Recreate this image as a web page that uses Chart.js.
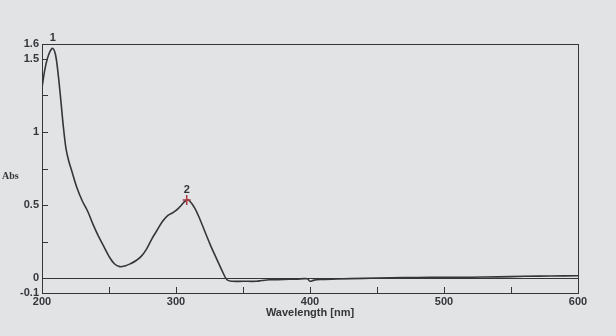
<!DOCTYPE html>
<html>
<head>
<meta charset="utf-8">
<script src="https://cdn.jsdelivr.net/npm/chart.js@4.4.1/dist/chart.umd.min.js"></script>
<style>
  html, body { margin: 0; padding: 0; background: #e1e3e5; }
  #wrap { width: 616px; height: 336px; position: relative; }
</style>
</head>
<body>
<div id="wrap"><canvas id="mychart" width="616" height="336"></canvas></div>
<script>
// spectrum
const wavelength = [200, 202, 204, 206, 208, 210, 212, 214, 216, 218, 220, 222, 226, 230, 234, 238, 242, 246, 250, 254, 258, 262, 266, 270, 274, 278, 282, 286, 290, 294, 298, 302, 306, 308, 310, 314, 318, 322, 326, 330, 334, 338, 342, 350, 360, 364, 370, 380, 390, 398, 400, 403, 408, 420, 440, 460, 480, 500, 520, 540, 560, 580, 600];
const absorbance = [1.30, 1.42, 1.50, 1.55, 1.57, 1.53, 1.40, 1.22, 1.03, 0.88, 0.80, 0.74, 0.62, 0.53, 0.46, 0.37, 0.29, 0.22, 0.15, 0.10, 0.08, 0.085, 0.10, 0.12, 0.15, 0.20, 0.27, 0.33, 0.39, 0.43, 0.45, 0.48, 0.52, 0.535, 0.53, 0.48, 0.40, 0.31, 0.22, 0.14, 0.06, -0.01, -0.02, -0.02, -0.02, -0.015, -0.01, -0.008, -0.005, -0.003, -0.02, -0.012, -0.008, -0.004, 0.0, 0.004, 0.006, 0.008, 0.008, 0.01, 0.014, 0.016, 0.018];

const yTicks = [-0.1, 0, 0.25, 0.5, 0.75, 1, 1.25, 1.5, 1.6];
const yLabels = ['-0.1', '0', '', '0.5', '', '1', '', '1.5', '1.6'];
const xTicks = [200, 250, 300, 350, 400, 450, 500, 550, 600];
const xLabels = ['200', '', '300', '', '400', '', '500', '', '600'];

const peaks = [{ label: '1', x: 208, y: 1.57, cross: false }, { label: '2', x: 308, y: 0.535, cross: true }];
const yTitle = 'Abs';
const xTitle = 'Wavelength [nm]';

const ink = '#34373a';
const font = { family: 'Liberation Sans, Arial, sans-serif', size: 11, weight: 'bold' };

// frame, inner tick marks, peak labels and the Abs label
const decor = {
  id: 'decor',
  afterDraw(chart) {
    const c = chart.ctx, a = chart.chartArea;
    const xs = chart.scales.x, ys = chart.scales.y;
    c.save();
    c.strokeStyle = ink;
    c.lineWidth = 1;
    c.strokeRect(a.left + 0.5, a.top + 0.5, a.right - a.left, a.bottom - a.top);
    c.beginPath();
    yTicks.forEach(v => {
      const py = Math.round(ys.getPixelForValue(v)) + 0.5;
      c.moveTo(a.left, py); c.lineTo(a.left + 6, py);
    });
    xTicks.forEach(v => {
      const px = Math.round(xs.getPixelForValue(v)) + 0.5;
      c.moveTo(px, a.bottom); c.lineTo(px, a.bottom - 6);
    });
    c.stroke();

    c.font = 'bold 11px Liberation Sans, Arial, sans-serif';
    c.fillStyle = ink;
    c.textAlign = 'center';
    c.textBaseline = 'bottom';
    peaks.forEach(p => {
      const px = xs.getPixelForValue(p.x), py = ys.getPixelForValue(p.y);
      if (p.cross) {
        c.strokeStyle = '#b0363f';
        c.lineWidth = 1.5;
        c.beginPath();
        c.moveTo(px - 4, py); c.lineTo(px + 4, py);
        c.moveTo(px, py - 5); c.lineTo(px, py + 5);
        c.stroke();
      }
      const ty = py - 4 < a.top ? a.top - 1 : py - 5;
      c.fillText(p.label, px, ty);
    });

    c.textAlign = 'left';
    c.textBaseline = 'middle';
    c.font = 'bold 10px Liberation Serif, serif';
    c.fillText(yTitle, 2, 176);
    c.restore();
  }
};

const canvas = document.getElementById('mychart');
new Chart(canvas, {
  type: 'line',
  data: {
    datasets: [{
      data: wavelength.map((w, i) => ({ x: w, y: absorbance[i] })),
      borderColor: ink,
      borderWidth: 1.6,
      pointRadius: 0,
      tension: 0.35,
      fill: false
    }]
  },
  options: {
    responsive: false,
    animation: false,
    layout: { padding: { left: 0, right: 38, top: 44, bottom: 0 } },
    plugins: { legend: { display: false }, tooltip: { enabled: false } },
    scales: {
      x: {
        type: 'linear',
        min: 200,
        max: 600,
        afterBuildTicks: axis => { axis.ticks = xTicks.map(v => ({ value: v })); },
        afterFit: axis => { axis.height = 43; },
        grid: { display: false, drawTicks: false },
        border: { display: false },
        ticks: {
          autoSkip: false,
          maxRotation: 0,
          padding: 2,
          color: ink,
          font: font,
          callback: (v, i) => xLabels[i]
        },
        title: { display: true, text: xTitle, color: ink, font: font, padding: { top: 0, bottom: 16 } }
      },
      y: {
        min: -0.1,
        max: 1.6,
        afterBuildTicks: axis => { axis.ticks = yTicks.map(v => ({ value: v })); },
        afterFit: axis => { axis.width = 42; },
        grid: {
          drawTicks: false,
          color: ctx => (ctx.tick && ctx.tick.value === 0 ? ink : 'rgba(0,0,0,0)'),
          lineWidth: 1
        },
        border: { display: false },
        ticks: {
          autoSkip: false,
          padding: 3,
          color: ink,
          font: font,
          callback: (v, i) => yLabels[i]
        }
      }
    }
  },
  plugins: [decor]
});
</script>
</body>
</html>
